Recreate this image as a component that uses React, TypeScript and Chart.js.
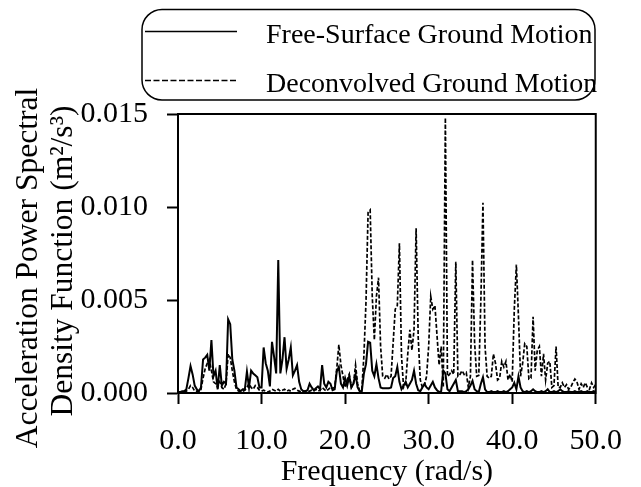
import React, { useEffect, useRef } from 'react';
import { Chart, registerables } from 'chart.js';

Chart.register(...registerables);

// Frequency grid (rad/s)
const frequency = [
  0, 0.25, 0.5, 0.75, 1, 1.25, 1.5, 1.75,
  2, 2.25, 2.5, 2.75, 3, 3.25, 3.5, 3.75,
  4, 4.25, 4.5, 4.75, 5, 5.25, 5.5, 5.75,
  6, 6.25, 6.5, 6.75, 7, 7.25, 7.5, 7.75,
  8, 8.25, 8.5, 8.75, 9, 9.25, 9.5, 9.75,
  10, 10.25, 10.5, 10.75, 11, 11.25, 11.5, 11.75,
  12, 12.25, 12.5, 12.75, 13, 13.25, 13.5, 13.75,
  14, 14.25, 14.5, 14.75, 15, 15.25, 15.5, 15.75,
  16, 16.25, 16.5, 16.75, 17, 17.25, 17.5, 17.75,
  18, 18.25, 18.5, 18.75, 19, 19.25, 19.5, 19.75,
  20, 20.25, 20.5, 20.75, 21, 21.25, 21.5, 21.75,
  22, 22.25, 22.5, 22.75, 23, 23.25, 23.5, 23.75,
  24, 24.25, 24.5, 24.75, 25, 25.25, 25.5, 25.75,
  26, 26.25, 26.5, 26.75, 27, 27.25, 27.5, 27.75,
  28, 28.25, 28.5, 28.75, 29, 29.25, 29.5, 29.75,
  30, 30.25, 30.5, 30.75, 31, 31.25, 31.5, 31.75,
  32, 32.25, 32.5, 32.75, 33, 33.25, 33.5, 33.75,
  34, 34.25, 34.5, 34.75, 35, 35.25, 35.5, 35.75,
  36, 36.25, 36.5, 36.75, 37, 37.25, 37.5, 37.75,
  38, 38.25, 38.5, 38.75, 39, 39.25, 39.5, 39.75,
  40, 40.25, 40.5, 40.75, 41, 41.25, 41.5, 41.75,
  42, 42.25, 42.5, 42.75, 43, 43.25, 43.5, 43.75,
  44, 44.25, 44.5, 44.75, 45, 45.25, 45.5, 45.75,
  46, 46.25, 46.5, 46.75, 47, 47.25, 47.5, 47.75,
  48, 48.25, 48.5, 48.75, 49, 49.25, 49.5, 49.75,
  50,
];

// Free-surface ground motion PSD (m²/s³)
const freeSurface = [
  0.00005, 0.00005, 0.0001, 0.0001, 0.0002, 0.0008, 0.00145, 0.001,
  0.0004, 0.0002, 0.0001, 0.0003, 0.0018, 0.0019, 0.00205, 0.0012,
  0.00285, 0.0009, 0.0012, 0.0002, 0.0015, 0.0004, 0.0006, 0.0005,
  0.00396, 0.0037, 0.0018, 0.0012, 0.0003, 0.0002, 0.0001, 0.0002,
  0.0002, 0.00115, 0.0003, 0.0012, 0.00105, 0.00095, 0.00085, 0.0003,
  0.0003, 0.00245, 0.0016, 0.0012, 0.00035, 0.00275, 0.00195, 0.00105,
  0.00715, 0.00105, 0.0018, 0.003, 0.0013, 0.0018, 0.00245, 0.00095,
  0.0012, 0.0015, 0.0006, 0.0002, 0.0001, 0.0001, 0.00015, 0.0005,
  0.0003, 0.00015, 0.00025, 0.00035, 0.0002, 0.0015, 0.0005, 0.0003,
  0.0006, 0.0005, 0.00015, 0.0002, 0.00115, 0.0014, 0.0005, 0.0003,
  0.0008, 0.0004, 0.0009, 0.0003, 0.0005, 0.001, 0.0003, 0.0001,
  0.0001, 0.00105, 0.00155, 0.00275, 0.0027, 0.0012, 0.0009, 0.00155,
  0.0008, 0.0003, 0.00025, 0.00025, 0.00025, 0.00025, 0.0003, 0.0008,
  0.0009, 0.0014, 0.0006, 0.0002, 0.0004, 0.0006, 0.0003, 0.0005,
  0.0007, 0.0012, 0.0005, 0.00015, 0.0001, 0.0003, 0.0005, 0.0003,
  0.0002, 0.0004, 0.0006, 0.0003, 0.00015, 0.00005, 0.0001, 0.0012,
  0.00105, 0.0002, 0.0001, 0.0003, 0.0005, 0.0007, 0.0001, 0.0001,
  0.0001, 0.00005, 0.0001, 0.0002, 0.0004, 0.00065, 0.0002, 0.0001,
  0.00005, 0.0005, 0.00085, 0.0002, 0.00005, 0.00005, 0.0001, 0.00005,
  0.00005, 0.0001, 0.00005, 0.00005, 0.0001, 0.00005, 0.0001, 0.0002,
  0.0003, 0.00055, 0.0002, 0.0009, 0.0003, 0.0001, 0.00005, 0.0001,
  0.00005, 0.0001, 0.0002, 0.0001, 0.00005, 0.00005, 0.0001, 0.00005,
  0.0001, 0.0002, 0.00005, 0.00005, 0.0001, 0.00005, 0.0001, 0.0002,
  0.0001, 0.00005, 0.00005, 0.0001, 0.00005, 0.00005, 0.0001, 0.00005,
  0.00005, 0.0001, 0.00005, 0.00005, 0.0001, 0.00005, 0.00005, 0.0001,
  0.00005,
];

// Deconvolved ground motion PSD (m²/s³)
const deconvolved = [
  0, 0, 0.00005, 0.0001, 0.0001, 0.0002, 0.0004, 0.0003,
  0.0001, 0.0001, 0.00005, 0.0002, 0.0008, 0.0013, 0.0016, 0.0018,
  0.0012, 0.0006, 0.0005, 0.0003, 0.0006, 0.0003, 0.0002, 0.0005,
  0.0021, 0.0019, 0.0012, 0.0006, 0.0002, 0.0001, 0.00005, 0.0001,
  0.00015, 0.0003, 0.0005, 0.0003, 0.0002, 0.0004, 0.0003, 0.00015,
  0.0001, 0.00015, 0.0001, 0.00005, 0.0001, 0.0002, 0.00015, 0.0001,
  0.0002, 0.0001, 0.00015, 0.0002, 0.0001, 0.00015, 0.0001, 0.0002,
  0.00025, 0.00015, 0.0001, 0.00005, 0.0001, 0.0001, 0.00005, 0.0001,
  0.00015, 0.0001, 0.0002, 0.0001, 0.00015, 0.0003, 0.0002, 0.0001,
  0.0002, 0.0003, 0.00025, 0.0003, 0.0013, 0.0026, 0.0015, 0.0009,
  0.0003, 0.0007, 0.001, 0.0003, 0.0005, 0.0015, 0.0005, 0.0001,
  0.0002, 0.002, 0.0049, 0.0097, 0.00984, 0.0052, 0.00285, 0.0052,
  0.0062, 0.0025, 0.0009, 0.0008, 0.001, 0.00075, 0.0009, 0.0027,
  0.0045, 0.0047, 0.00805, 0.002, 0.0003, 0.0005, 0.0021, 0.0034,
  0.0023, 0.0034, 0.00885, 0.003, 0.0007, 0.0003, 0.0004, 0.0009,
  0.0025, 0.0052, 0.0045, 0.0047, 0.0031, 0.0015, 0.0025, 0.0003,
  0.0148, 0.0009, 0.001, 0.0012, 0.001, 0.00706, 0.0009, 0.001,
  0.0012, 0.001, 0.0011, 0.0003, 0.0009, 0.00715, 0.0027, 0.0009,
  0.00095, 0.005, 0.01023, 0.0025, 0.0009, 0.0008, 0.0009, 0.0021,
  0.0016, 0.0007, 0.0008, 0.0017, 0.0014, 0.0017, 0.0007, 0.001,
  0.0006, 0.0045, 0.0069, 0.0041, 0.0009, 0.0016, 0.00265, 0.0025,
  0.00075, 0.0008, 0.0041, 0.0012, 0.0023, 0.0025, 0.0009, 0.0021,
  0.0007, 0.0016, 0.0017, 0.0003, 0.0004, 0.0025, 0.0003, 0.0003,
  0.00055, 0.0003, 0.00045, 0.0002, 0.0003, 0.00055, 0.00075, 0.0006,
  0.0002, 0.0005, 0.0003, 0.00055, 0.0003, 0.0002, 0.00055, 0.0003,
  0.00045,
];

const seriesLabels = ['Free-Surface Ground Motion', 'Deconvolved Ground Motion'];
const xTitle = 'Frequency (rad/s)';
const yTitleLines = ['Acceleration Power Spectral', 'Density Function (m\u00B2/s\u00B3)'];
const xRange = [0, 50];
const yRange = [0, 0.015];
const xStep = 10;
const yStep = 0.005;

const SERIF = '"Liberation Serif", "Times New Roman", Times, serif';

const framePlugin = {
  id: 'frame',
  afterDatasetsDraw(chart: any) {
    const { ctx, chartArea } = chart;
    ctx.save();
    ctx.strokeStyle = '#000';
    ctx.lineWidth = 2;
    ctx.strokeRect(chartArea.left, chartArea.top, chartArea.right - chartArea.left, chartArea.bottom - chartArea.top);
    ctx.restore();
  },
};

const yTitlePlugin = {
  id: 'yTitle',
  afterDraw(chart: any) {
    const { ctx } = chart;
    const pos = [
      { x: 37, y: 268 },
      { x: 72, y: 261 },
    ];
    ctx.save();
    ctx.fillStyle = '#000';
    ctx.font = `31.5px ${SERIF}`;
    ctx.textAlign = 'center';
    ctx.textBaseline = 'alphabetic';
    yTitleLines.forEach((line, i) => {
      ctx.save();
      ctx.translate(pos[i].x, pos[i].y);
      ctx.rotate(-Math.PI / 2);
      ctx.fillText(line, 0, 0);
      ctx.restore();
    });
    ctx.restore();
  },
};

const legendPlugin = {
  id: 'boxLegend',
  afterDraw(chart: any) {
    const { ctx } = chart;
    const x0 = 142, y0 = 9.5, w = 453, h = 90.5, r = 20;
    ctx.save();
    ctx.strokeStyle = '#000';
    ctx.lineWidth = 1.5;
    ctx.beginPath();
    ctx.moveTo(x0 + r, y0);
    ctx.lineTo(x0 + w - r, y0);
    ctx.arcTo(x0 + w, y0, x0 + w, y0 + r, r);
    ctx.lineTo(x0 + w, y0 + h - r);
    ctx.arcTo(x0 + w, y0 + h, x0 + w - r, y0 + h, r);
    ctx.lineTo(x0 + r, y0 + h);
    ctx.arcTo(x0, y0 + h, x0, y0 + h - r, r);
    ctx.lineTo(x0, y0 + r);
    ctx.arcTo(x0, y0, x0 + r, y0, r);
    ctx.closePath();
    ctx.fillStyle = '#fff';
    ctx.fill();
    ctx.stroke();

    const lineY = [31.5, 80.5];
    const textY = [43, 92];
    chart.data.datasets.forEach((ds: any, i: number) => {
      ctx.beginPath();
      ctx.lineWidth = 1.3;
      ctx.setLineDash(ds.borderDash && ds.borderDash.length ? [6, 2.5] : []);
      ctx.moveTo(145, lineY[i]);
      ctx.lineTo(237, lineY[i]);
      ctx.stroke();
      ctx.setLineDash([]);
      ctx.fillStyle = '#000';
      ctx.font = `28px ${SERIF}`;
      ctx.textAlign = 'left';
      ctx.textBaseline = 'alphabetic';
      ctx.fillText(ds.label, 266, textY[i]);
    });
    ctx.restore();
  },
};

export default function App() {
  const canvasRef = useRef<HTMLCanvasElement | null>(null);

  useEffect(() => {
    const canvas = canvasRef.current;
    if (!canvas) return;
    const tickFont = { family: SERIF, size: 30 };
    const gridOpts = {
      drawOnChartArea: false,
      drawTicks: true,
      tickLength: 11,
      tickWidth: 2,
      tickColor: '#000',
    };
    const chart = new Chart(canvas, {
      type: 'line',
      data: {
        datasets: [
          {
            label: seriesLabels[0],
            data: frequency.map((f, i) => ({ x: f, y: freeSurface[i] })),
            borderColor: '#000',
            backgroundColor: '#000',
            borderWidth: 2,
            pointRadius: 0,
            tension: 0,
            fill: false,
          },
          {
            label: seriesLabels[1],
            data: frequency.map((f, i) => ({ x: f, y: deconvolved[i] })),
            borderColor: '#000',
            backgroundColor: '#000',
            borderWidth: 1.7,
            borderDash: [4, 2],
            pointRadius: 0,
            tension: 0,
            fill: false,
          },
        ],
      },
      options: {
        responsive: false,
        animation: false,
        devicePixelRatio: 1,
        layout: { padding: { top: 114, right: 43, bottom: 0, left: 0 } },
        plugins: {
          legend: { display: false },
          tooltip: { enabled: false },
        },
        scales: {
          x: {
            type: 'linear',
            min: xRange[0],
            max: xRange[1],
            afterFit: (s: any) => { s.height = 94; },
            ticks: {
              stepSize: xStep,
              autoSkip: false,
              maxRotation: 0,
              padding: 19,
              color: '#000',
              font: tickFont,
              callback: (v: any) => Number(v).toFixed(1),
            },
            grid: gridOpts,
            border: { display: true, color: '#000', width: 2 },
            title: {
              display: true,
              text: xTitle,
              color: '#000',
              padding: 0,
              font: { family: SERIF, size: 30, lineHeight: 1 },
            },
          },
          y: {
            type: 'linear',
            min: yRange[0],
            max: yRange[1],
            afterFit: (s: any) => { s.width = 178; },
            ticks: {
              stepSize: yStep,
              padding: 19,
              color: '#000',
              font: tickFont,
              callback: (v: any) => Number(v).toFixed(3),
            },
            grid: gridOpts,
            border: { display: true, color: '#000', width: 2 },
          },
        },
      } as any,
      plugins: [framePlugin, legendPlugin, yTitlePlugin],
    });
    return () => chart.destroy();
  }, []);

  return (
    <div style={{ position: 'absolute', left: 0, top: 0, width: 641, height: 487, background: '#fff' }}>
      <canvas ref={canvasRef} width={641} height={487} style={{ display: 'block' }} />
    </div>
  );
}
